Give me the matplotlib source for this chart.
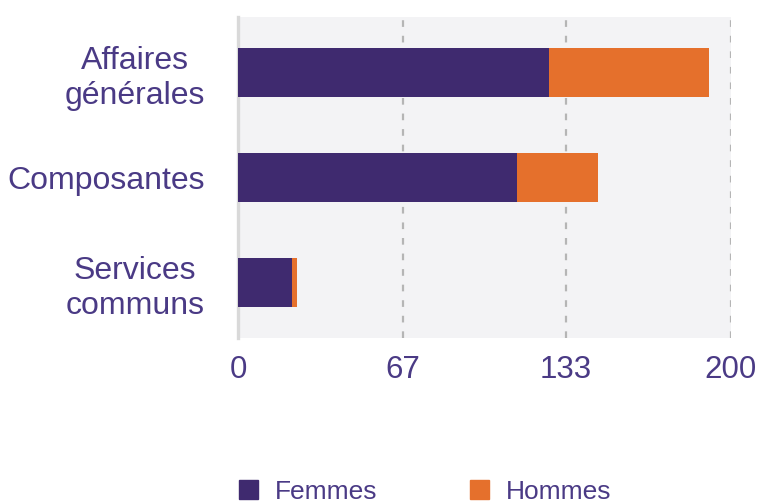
import matplotlib
matplotlib.use("Agg")
import matplotlib.pyplot as plt
from matplotlib.patches import Patch

# headcount per department, split by gender
categories = ["Affaires\ngénérales", "Composantes", "Services\ncommuns"]
femmes = [126, 113, 22]
hommes = [65, 33, 2]
tick_values = [0, 67, 133, 200]

PURPLE = "#3f2a6f"
ORANGE = "#e5702c"
TEXT = "#4a3a85"

plt.rcParams["font.family"] = ["Liberation Sans", "DejaVu Sans"]

fig = plt.figure(figsize=(7.59, 5.04), dpi=100)
ax = fig.add_axes([238 / 759, 166 / 504, 493 / 759, 321 / 504])
ax.set_facecolor("#f3f3f5")

ypos = list(range(len(categories)))
ax.barh(ypos, femmes, height=0.46, color=PURPLE, label="Femmes", zorder=3)
ax.barh(ypos, hommes, left=femmes, height=0.46, color=ORANGE, label="Hommes", zorder=3)

ax.set_xlim(0, 200)
ax.set_ylim(2.53, -0.53)
ax.set_xticks(tick_values)
ax.set_xticklabels([str(v) for v in tick_values])
ax.set_yticks(ypos)
ax.set_yticklabels(categories, multialignment="center")

# dashed vertical guides at each tick except zero
for v in tick_values[1:]:
    ax.axvline(v, color="#b5b5b5", linewidth=1.6, linestyle=(0, (3, 4)), zorder=2)

for side in ["top", "right", "bottom"]:
    ax.spines[side].set_visible(False)
ax.spines["left"].set_color("#d9d9d9")
ax.spines["left"].set_linewidth(2.4)

ax.tick_params(axis="both", length=0, colors=TEXT)
ax.tick_params(axis="x", pad=12, labelsize=22.5)
ax.tick_params(axis="y", pad=24, labelsize=23)

handles = [Patch(color=PURPLE, label="Femmes"), Patch(color=ORANGE, label="Hommes")]
fig.legend(handles=handles, loc="lower left", bbox_to_anchor=(239 / 759, 0.0),
           ncol=2, frameon=False, fontsize=19, labelcolor=TEXT,
           borderpad=0, borderaxespad=0,
           handlelength=0.72, handleheight=0.72, handletextpad=0.65, columnspacing=3.5)

fig.savefig("out.png", dpi=100)
